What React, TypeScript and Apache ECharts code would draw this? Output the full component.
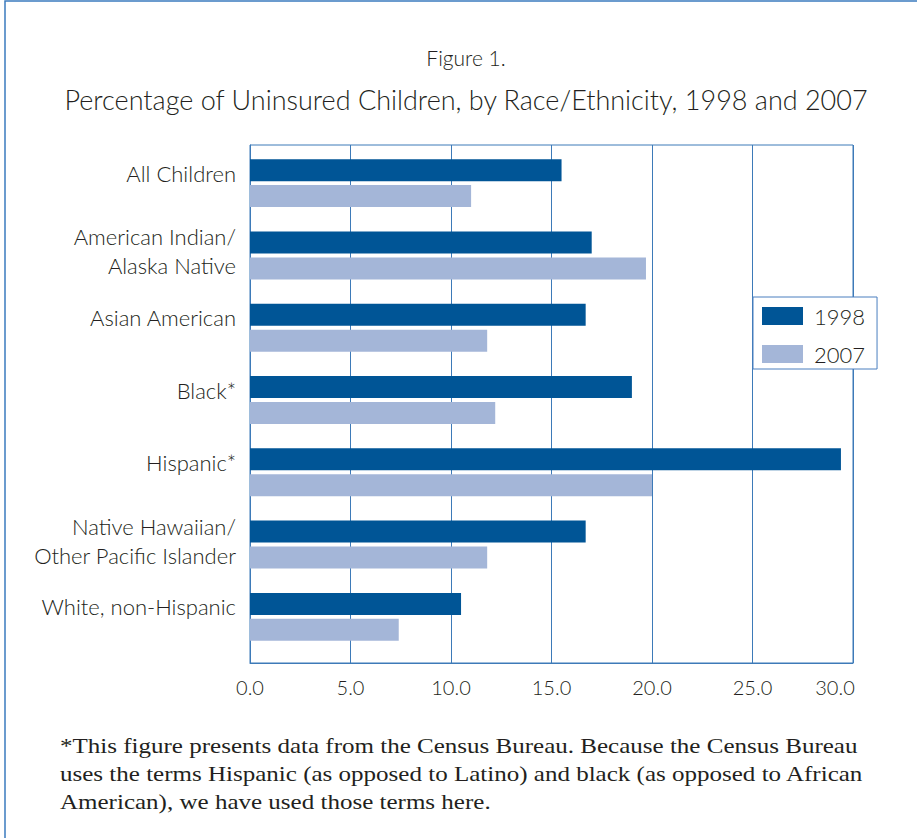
import React, { useEffect, useRef } from "react";
import * as echarts from "echarts";

const categories = [
  "All Children",
  "American Indian/\nAlaska Native",
  "Asian American",
  "Black*",
  "Hispanic*",
  "Native Hawaiian/\nOther Pacific Islander",
  "White, non-Hispanic",
];
const seriesNames = ["1998", "2007"];
const values1998 = [15.5, 17.0, 16.7, 19.0, 29.4, 16.7, 10.5];
const values2007 = [11.0, 19.7, 11.8, 12.2, 20.0, 11.8, 7.4];
const xMin = 0;
const xMax = 30;
const xInterval = 5;
const figureLabel = "Figure 1.";
const titleText = "Percentage of Uninsured Children, by Race/Ethnicity, 1998 and 2007";
const footnoteLines = [
  "*This figure presents data from the Census Bureau. Because the Census Bureau",
  "uses the terms Hispanic (as opposed to Latino) and black (as opposed to African",
  "American), we have used those terms here.",
];

const SANS = "Lato, 'Open Sans', sans-serif";
const SERIF = "'Liberation Serif', 'DejaVu Serif', serif";
const TEXT = "#231f20";
const DARK = "#005596";
const LIGHT = "#a4b6d8";
const LINE = "#3d7ab8";

export default function App() {
  const ref = useRef<HTMLDivElement>(null);
  useEffect(() => {
    if (!ref.current) return;
    const chart = echarts.init(ref.current, null, { renderer: "svg" });
    const lbl = { fontFamily: SANS, fontSize: 22, fontWeight: 300, color: TEXT, lineHeight: 29 };
    const option: any = {
      animation: false,
      backgroundColor: "#ffffff",
      legend: {
        data: seriesNames,
        orient: "vertical",
        left: 753,
        top: 297,
        itemWidth: 41,
        itemHeight: 18,
        itemGap: 12,
        icon: "rect",
        padding: [6, 12, 2, 9],
        borderColor: "#4a7fbf",
        borderWidth: 1,
        backgroundColor: "#ffffff",
        textStyle: { fontFamily: SANS, fontSize: 22, fontWeight: 300, color: TEXT, lineHeight: 26, padding: [0, 0, 0, 6] },
        z: 10,
      },
      grid: [
        { left: 250, right: 64, top: 145, bottom: 175, show: true, borderColor: LINE, borderWidth: 1, backgroundColor: "transparent" },
        { left: 250, right: 64, top: 147, bottom: 185 },
      ],
      xAxis: [
        {
          gridIndex: 0,
          type: "value",
          min: xMin,
          max: xMax,
          interval: xInterval,
          axisLine: { show: true, lineStyle: { color: LINE, width: 1 } },
          axisTick: { show: false },
          splitLine: { show: true, lineStyle: { color: LINE, width: 1 } },
          axisLabel: {
            fontFamily: SANS,
            fontSize: 20,
            fontWeight: 300,
            color: TEXT,
            margin: 14,
            formatter: (v: number) => (v === xMax ? `{last|${v.toFixed(1)}}` : v.toFixed(1)),
            rich: { last: { fontFamily: SANS, fontSize: 20, fontWeight: 300, color: TEXT, padding: [0, 36, 0, 0] } },
          },
        },
        {
          gridIndex: 1,
          type: "value",
          min: xMin,
          max: xMax,
          show: false,
        },
      ],
      yAxis: [
        {
          gridIndex: 0,
          type: "value",
          min: 0,
          max: 1,
          axisLine: { show: true, lineStyle: { color: LINE, width: 1 } },
          axisTick: { show: false },
          axisLabel: { show: false },
          splitLine: { show: false },
        },
        {
          gridIndex: 1,
          type: "category",
          data: categories,
          inverse: true,
          axisLine: { show: false },
          axisTick: { show: false },
          splitLine: { show: false },
          axisLabel: {
            margin: 14,
            ...lbl,
            formatter: (v: string) => {
              const parts = v.split("\n");
              if (parts.length === 1) return `{a|${v}}\n{sp20| }`;
              return parts.map((p) => `{a|${p}}`).join("\n") + "\n{sp8| }";
            },
            rich: {
              a: { ...lbl },
              sp20: { fontSize: 1, lineHeight: 20 },
              sp8: { fontSize: 1, lineHeight: 8 },
            },
          },
        },
      ],
      series: [
        {
          name: seriesNames[0],
          type: "bar",
          xAxisIndex: 1,
          yAxisIndex: 1,
          data: values1998,
          barWidth: 22,
          barGap: "18%",
          itemStyle: { color: DARK },
        },
        {
          name: seriesNames[1],
          type: "bar",
          xAxisIndex: 1,
          yAxisIndex: 1,
          data: values2007,
          barWidth: 22,
          barGap: "18%",
          itemStyle: { color: LIGHT },
        },
      ],
      graphic: [
        {
          type: "rect",
          shape: { x: 5, y: 1, width: 1200, height: 1200 },
          style: { fill: "none", stroke: "#3b7bbf", lineWidth: 1.5 },
          silent: true,
        },
        {
          type: "text",
          x: 466,
          y: 57,
          style: { text: figureLabel, font: `300 21px ${SANS}`, fill: TEXT, align: "center", verticalAlign: "middle" },
        },
        {
          type: "text",
          x: 466,
          y: 99,
          style: { text: titleText, font: `300 27px ${SANS}`, fill: TEXT, align: "center", verticalAlign: "middle" },
        },
        {
          type: "text",
          x: 60,
          y: 732,
          scaleX: 1.138,
          style: {
            text: footnoteLines.join("\n"),
            font: `22px ${SERIF}`,
            lineHeight: 28,
            fill: TEXT,
            align: "left",
            verticalAlign: "top",
          },
        },
      ],
    };
    chart.setOption(option);
    return () => chart.dispose();
  }, []);
  return (
    <div
      ref={ref}
      style={{ position: "fixed", left: 0, top: 0, width: 917, height: 838, background: "#fff" }}
    />
  );
}
